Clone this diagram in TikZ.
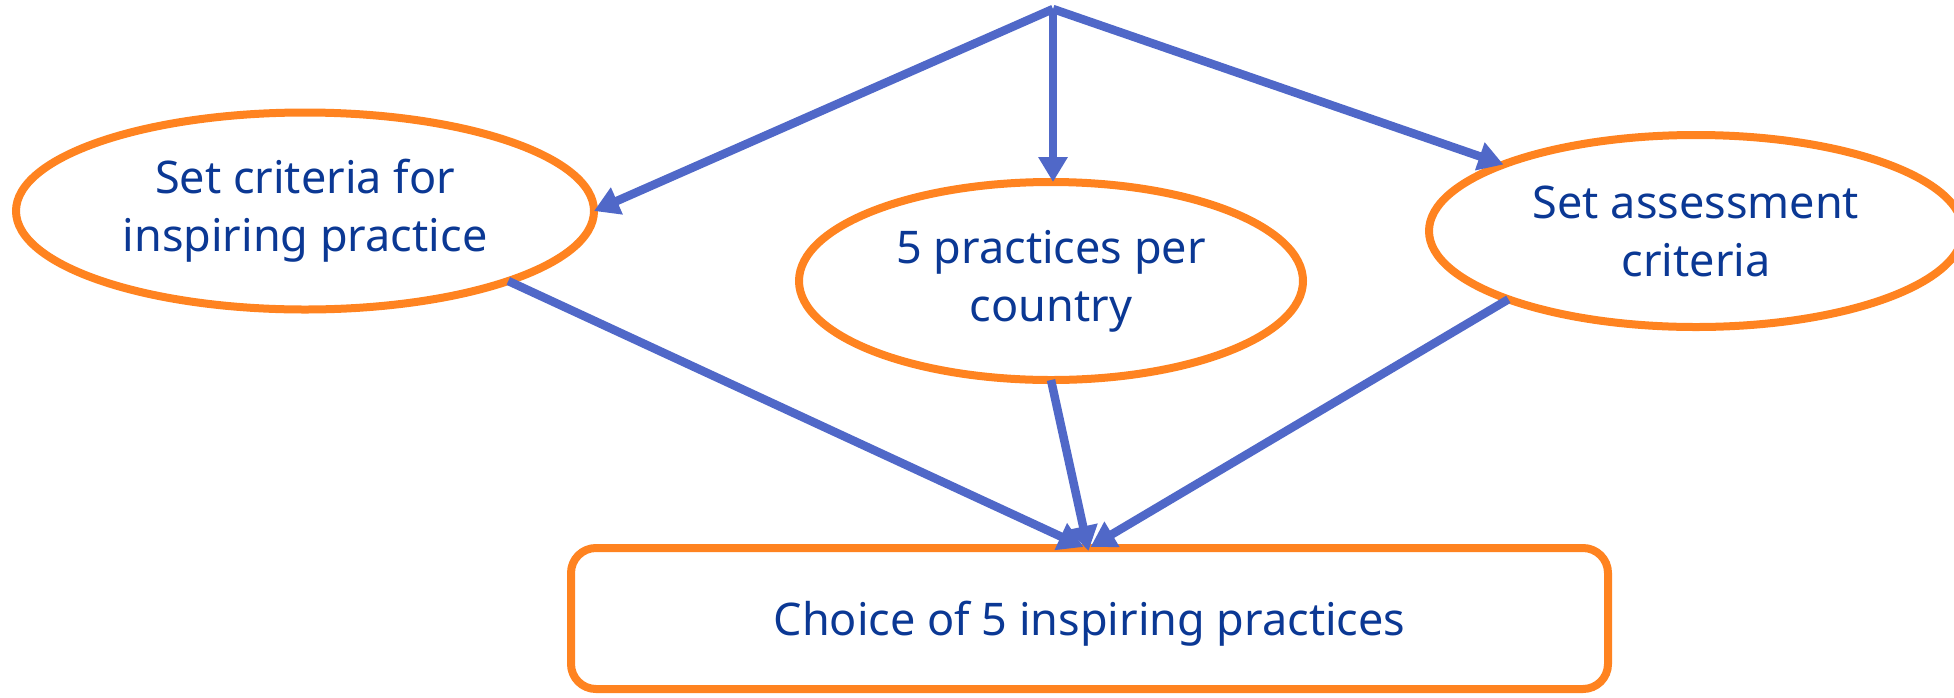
\documentclass[tikz,border=0pt]{standalone}
\usepackage{fontspec}
\setmainfont{Noto Sans}
\usetikzlibrary{shapes.geometric,arrows.meta,calc}
\definecolor{lineblue}{RGB}{80,104,200}
\definecolor{edgeorange}{RGB}{255,131,32}
\definecolor{textblue}{RGB}{11,56,148}
\begin{document}
\begin{tikzpicture}[x=1pt,y=-1pt,
  oval/.style={ellipse,draw=edgeorange,line width=8pt,inner sep=0pt,outer sep=0pt,
    text=textblue,align=center,font=\fontsize{45}{58}\selectfont},
  endbox/.style={rectangle,rounded corners=25pt,draw=edgeorange,line width=8pt,
    inner sep=0pt,outer sep=0pt,text=textblue,font=\fontsize{45}{58}\selectfont},
  conn/.style={draw=lineblue,line width=8.5pt,
    -{Triangle[width=28pt,length=25pt]}}]
\useasboundingbox (0,0) rectangle (1954,697);
\node[oval,minimum width=578pt,minimum height=197pt] (L) at (305,211)
  {Set criteria for\\inspiring practice};
\node[oval,minimum width=504pt,minimum height=198pt] (M) at (1051,281)
  {5 practices per\\country};
\node[oval,minimum width=534pt,minimum height=192pt] (R) at (1696,231)
  {Set assessment\\criteria};
\node[endbox,minimum width=1037pt,minimum height=141pt,text depth=0pt] (B) at (1089.5,618.5)
  {Choice of 5 inspiring practices};
\coordinate (top) at (1053,9);
\coordinate (e1) at ($(B.north)+(-6,-1)$);
\coordinate (e2) at ($(B.north)+(-1,3)$);
\coordinate (e3) at ($(B.north)+(1,-1)$);
\draw[conn] (top) -- (L.east);
\draw[conn] (top) -- (top |- M.north);
\draw[conn] (top) -- (R);
\draw[conn] (L.-19.5) -- (e1);
\draw[conn] (M.south) -- (e2);
\draw[conn] (R.200) -- (e3);
\end{tikzpicture}
\end{document}
